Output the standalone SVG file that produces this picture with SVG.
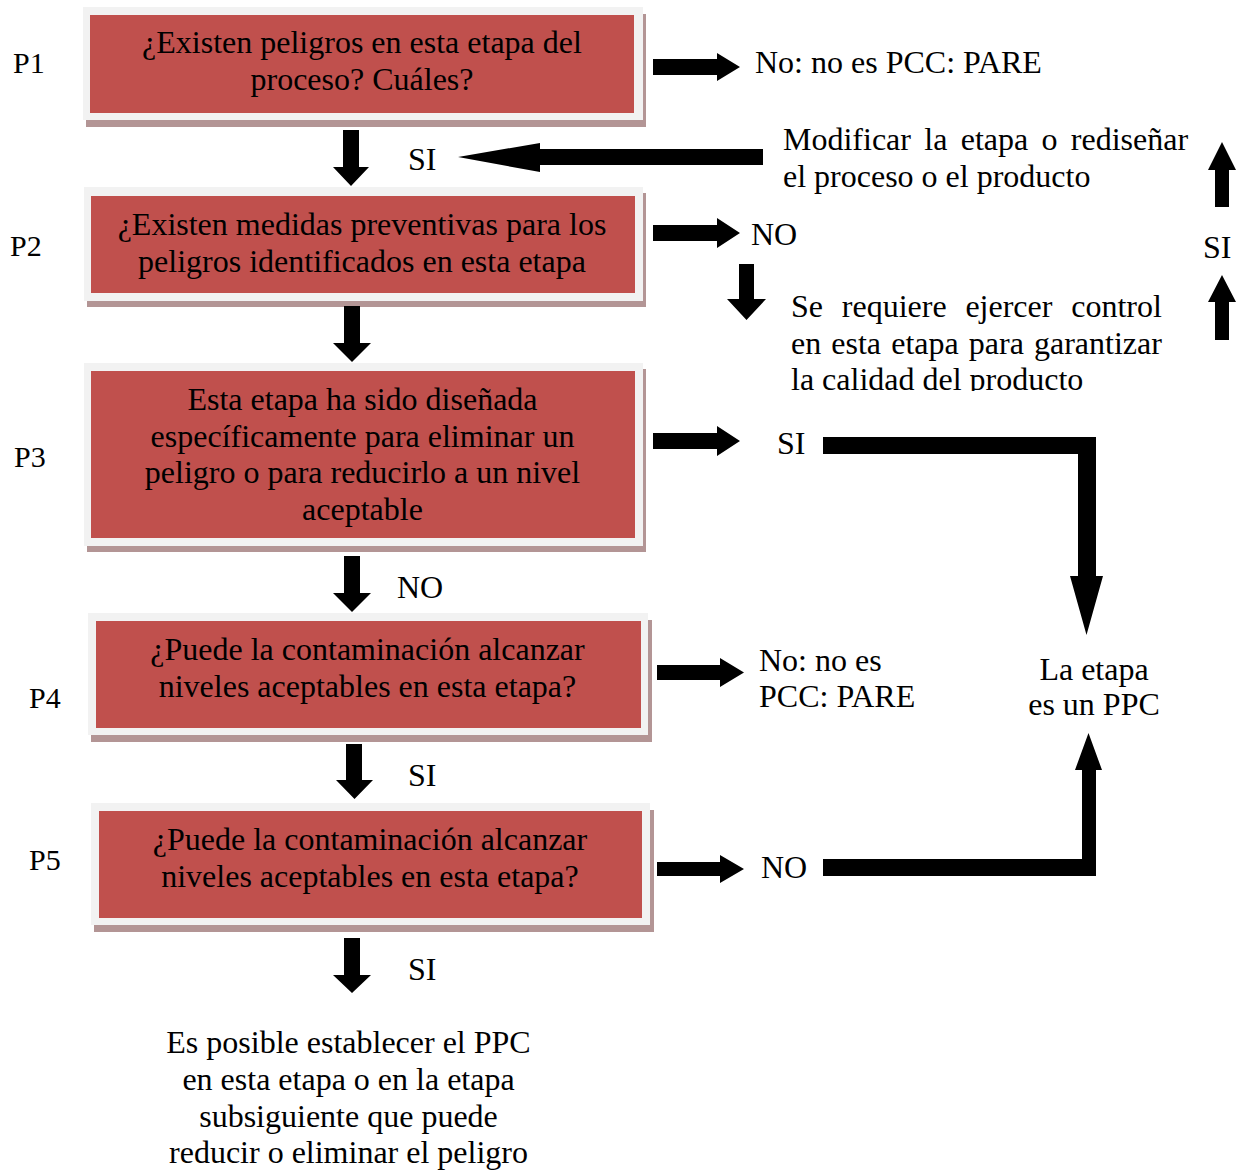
<svg xmlns="http://www.w3.org/2000/svg" width="1241" height="1171" viewBox="0 0 1241 1171">
<style>
.t{font-family:"Liberation Serif","Times New Roman",serif;font-size:32px;fill:#000}
.lbl{font-family:"Liberation Serif","Times New Roman",serif;font-size:30px;fill:#000}
.c{text-anchor:middle}
.sh{fill:#b39595}
.fr{fill:#f2f2f2}
.rd{fill:#c0504d}
.ar{fill:#000}
</style>
<defs>
<clipPath id="clipSe"><rect x="780" y="280" width="400" height="111"/></clipPath>
</defs>
<rect width="1241" height="1171" fill="#fff"/>

<g id="P1">
<rect class="sh" x="86" y="14" width="560" height="113"/>
<rect class="fr" x="83" y="7" width="560" height="113"/>
<rect class="rd" x="90" y="15" width="544" height="98"/>
<text class="t c" x="362" y="53">¿Existen peligros en esta etapa del</text>
<text class="t c" x="362" y="90">proceso? Cuáles?</text>
<text class="lbl" x="13" y="73">P1</text>
</g>

<g id="P2">
<rect class="sh" x="87" y="193" width="559" height="114"/>
<rect class="fr" x="84" y="187" width="559" height="114"/>
<rect class="rd" x="91" y="196" width="544" height="97"/>
<text class="t c" x="362" y="235">¿Existen medidas preventivas para los</text>
<text class="t c" x="362" y="272">peligros identificados en esta etapa</text>
<text class="lbl" x="10" y="256">P2</text>
</g>

<g id="P3">
<rect class="sh" x="87" y="369" width="559" height="183"/>
<rect class="fr" x="84" y="363" width="559" height="183"/>
<rect class="rd" x="91" y="371" width="544" height="167"/>
<text class="t c" x="362.5" y="410">Esta etapa ha sido diseñada</text>
<text class="t c" x="362.5" y="447">específicamente para eliminar un</text>
<text class="t c" x="362.5" y="483">peligro o para reducirlo a un nivel</text>
<text class="t c" x="362.5" y="520">aceptable</text>
<text class="lbl" x="14" y="467">P3</text>
</g>

<g id="P4">
<rect class="sh" x="91" y="620" width="561" height="122"/>
<rect class="fr" x="88" y="613" width="560" height="122"/>
<rect class="rd" x="96" y="621" width="545" height="107"/>
<text class="t c" x="367.5" y="660">¿Puede la contaminación alcanzar</text>
<text class="t c" x="367.5" y="697">niveles aceptables en esta etapa?</text>
<text class="lbl" x="29" y="708">P4</text>
</g>

<g id="P5">
<rect class="sh" x="94" y="810" width="560" height="122"/>
<rect class="fr" x="91" y="803" width="559" height="122"/>
<rect class="rd" x="99" y="811" width="543" height="107"/>
<text class="t c" x="370" y="850">¿Puede la contaminación alcanzar</text>
<text class="t c" x="370" y="887">niveles aceptables en esta etapa?</text>
<text class="lbl" x="29" y="870">P5</text>
</g>

<g id="stop1">
<text class="t" x="755" y="73">No: no es PCC: PARE</text>
</g>

<g id="modificar">
<text class="t" y="150"><tspan x="783">Modificar</tspan><tspan x="924.3">la</tspan><tspan x="960.7">etapa</tspan><tspan x="1041.5">o</tspan><tspan x="1070.8">rediseñar</tspan></text>
<text class="t" x="783" y="187">el proceso o el producto</text>
</g>

<g id="control">
<text class="t" y="317"><tspan x="791">Se</tspan><tspan x="841.8">requiere</tspan><tspan x="965.4">ejercer</tspan><tspan x="1071.2">control</tspan></text>
<text class="t" y="354"><tspan x="791">en</tspan><tspan x="831.3">esta</tspan><tspan x="891.2">etapa</tspan><tspan x="968.8">para</tspan><tspan x="1034">garantizar</tspan></text>
<text class="t" x="791" y="390" clip-path="url(#clipSe)">la calidad del producto</text>
</g>

<g id="stop4">
<text class="t" x="759" y="671">No: no es</text>
<text class="t" x="759" y="707">PCC: PARE</text>
</g>

<g id="ppc">
<text class="t c" x="1094" y="680">La etapa</text>
<text class="t c" x="1094" y="715">es un PPC</text>
</g>

<g id="final">
<text class="t c" x="348.5" y="1053">Es posible establecer el PPC</text>
<text class="t c" x="348.5" y="1090">en esta etapa o en la etapa</text>
<text class="t c" x="348.5" y="1127">subsiguiente que puede</text>
<text class="t c" x="348.5" y="1163">reducir o eliminar el peligro</text>
</g>

<g id="connectors">
<!-- right arrows -->
<path class="ar" d="M653,59 H717 V53 L740,67 L717,81 V75 H653 Z"/>
<path class="ar" d="M653,225 H717 V218 L740,233 L717,248 V241 H653 Z"/>
<path class="ar" d="M653,433 H717 V426 L740,441 L717,456 V449 H653 Z"/>
<path class="ar" d="M657,665 H720 V658 L744,672.5 L720,687 V680 H657 Z"/>
<path class="ar" d="M657,862 H720 V855 L744,869 L720,883 V876 H657 Z"/>
<!-- down arrows -->
<path class="ar" d="M343,130 H359 V167 H369 L351,186 L333,167 H343 Z"/>
<path class="ar" d="M344,306 H360 V343 H371 L352,362 L333,343 H344 Z"/>
<path class="ar" d="M344,556 H360 V593 H371 L352,612 L333,593 H344 Z"/>
<path class="ar" d="M346,744 H362 V780 H373 L354.5,799 L336,780 H346 Z"/>
<path class="ar" d="M344,938 H360 V975 H371 L352,993 L333,975 H344 Z"/>
<path class="ar" d="M739,264 H754 V299 H766 L746.5,320 L727,299 H739 Z"/>
<!-- left arrow to SI -->
<path class="ar" d="M763,149 V165 H540 V172 L458,157 L540,143 V149 Z"/>
<!-- up arrows right -->
<path class="ar" d="M1215,207 V170 H1208 L1222,142 L1236,170 H1229 V207 Z"/>
<path class="ar" d="M1215,340 V302 H1208 L1222,275 L1236,302 H1229 V340 Z"/>
<!-- elbow from P3 SI -->
<path class="ar" d="M823,437 H1096 V576 H1103 L1086.5,635 L1070,576 H1078 V454 H823 Z"/>
<!-- elbow from P5 NO -->
<path class="ar" d="M823,859 H1082 V770 H1075 L1088.5,733 L1102,770 H1096 V876 H823 Z"/>
</g>

<g id="labels">
<text class="t" x="408" y="170">SI</text>
<text class="t" x="751" y="245">NO</text>
<text class="t" x="1203" y="258">SI</text>
<text class="t" x="777" y="454">SI</text>
<text class="t" x="397" y="598">NO</text>
<text class="t" x="408" y="786">SI</text>
<text class="t" x="761" y="878">NO</text>
<text class="t" x="408" y="980">SI</text>
</g>
</svg>
